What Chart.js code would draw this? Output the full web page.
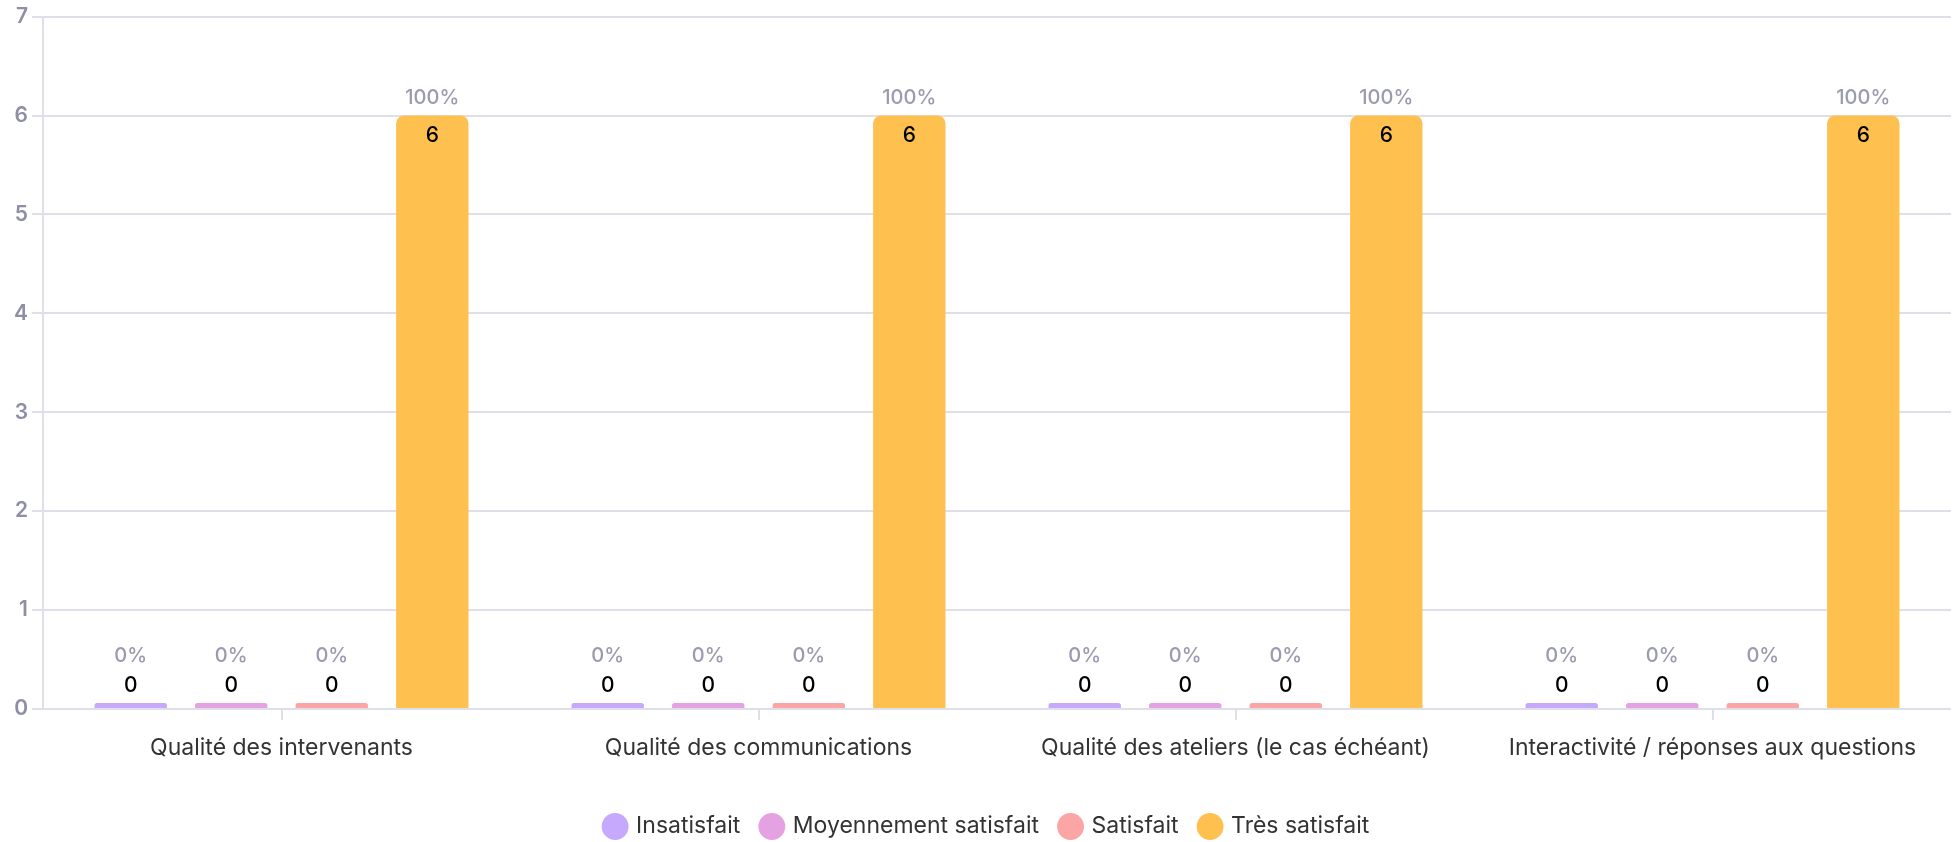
<!DOCTYPE html>
<html>
<head>
<meta charset="utf-8">
<script src="https://cdn.jsdelivr.net/npm/chart.js@4.4.0/dist/chart.umd.min.js"></script>
<style>
  html, body { margin: 0; padding: 0; background: #fff; }
</style>
</head>
<body>
<canvas id="chart" width="1957" height="842"></canvas>
<script>
const categories = [
  'Qualité des intervenants',
  'Qualité des communications',
  'Qualité des ateliers (le cas échéant)',
  'Interactivité / réponses aux questions'
]
const insatisfait = [0, 0, 0, 0]
const moyennement = [0, 0, 0, 0]
const satisfait = [0, 0, 0, 0]
const tresSatisfait = [6, 6, 6, 6]
const yTicks = [0, 1, 2, 3, 4, 5, 6, 7]

const FONT = 'Inter, "Noto Sans", sans-serif'
const GRID = '#dfdfe9'

// percentage + count labels above / inside each bar
const barLabels = {
  id: 'barLabels',
  afterLayout (chart) {
    // legend sits a bit right of centre in the original
    chart.legend.left += 12
    chart.legend.right += 12
  },
  afterDatasetsDraw (chart) {
    const ctx = chart.ctx
    const sets = chart.data.datasets
    ctx.save()
    ctx.textAlign = 'center'
    ctx.textBaseline = 'middle'
    sets.forEach((ds, i) => {
      const meta = chart.getDatasetMeta(i)
      meta.data.forEach((bar, j) => {
        const total = sets.reduce((s, d) => s + d.data[j], 0)
        const v = ds.data[j]
        const pct = total ? Math.round(v / total * 100) : 0
        const up = v > 0 ? 18 : 47
        ctx.font = '500 20px ' + FONT
        ctx.fillStyle = '#9a9ab0'
        ctx.fillText(pct + '%', bar.x, bar.y - up)
        ctx.font = '500 21px ' + FONT
        ctx.fillStyle = '#000'
        ctx.fillText(String(v), bar.x, v > 0 ? bar.y + 20 : bar.y - 17)
      })
    })
    ctx.restore()
  }
}

const mk = (label, data, color) => ({
  label: label,
  data: data,
  backgroundColor: color,
  borderRadius: 8,
  borderSkipped: 'start',
  minBarLength: 6,
  categoryPercentage: 0.843,
  barPercentage: 0.72
})

new Chart(document.getElementById('chart'), {
  type: 'bar',
  data: {
    labels: categories,
    datasets: [
      mk('Insatisfait', insatisfait, '#c6a8fc'),
      mk('Moyennement satisfait', moyennement, '#e4a2e2'),
      mk('Satisfait', satisfait, '#fca5a5'),
      mk('Très satisfait', tresSatisfait, '#fec150')
    ]
  },
  plugins: [barLabels],
  options: {
    responsive: false,
    devicePixelRatio: 1,
    animation: false,
    layout: { padding: { top: 12, right: 6, bottom: -6, left: 0 } },
    plugins: {
      tooltip: { enabled: false },
      legend: {
        position: 'bottom',
        labels: {
          usePointStyle: true,
          pointStyle: 'circle',
          boxWidth: 19,
          boxHeight: 19,
          padding: 22,
          color: '#333',
          font: { family: FONT, size: 23 }
        }
      }
    },
    scales: {
      x: {
        afterFit: (s) => { s.height = 84 },
        grid: { display: true, drawOnChartArea: false, offset: false, tickLength: 11, color: GRID, lineWidth: 2 },
        border: { display: false },
        ticks: { color: '#333', padding: 14, font: { family: FONT, size: 23 } }
      },
      y: {
        min: 0,
        max: 7,
        afterFit: (s) => { s.width = 43 },
        afterBuildTicks: (s) => { s.ticks = yTicks.map(v => ({ value: v })) },
        grid: { color: GRID, lineWidth: 2, tickLength: 11 },
        border: { color: GRID, width: 2 },
        ticks: { color: '#8e8ea6', padding: 4, font: { family: FONT, size: 21, weight: '600' } }
      }
    }
  }
})
</script>
</body>
</html>
